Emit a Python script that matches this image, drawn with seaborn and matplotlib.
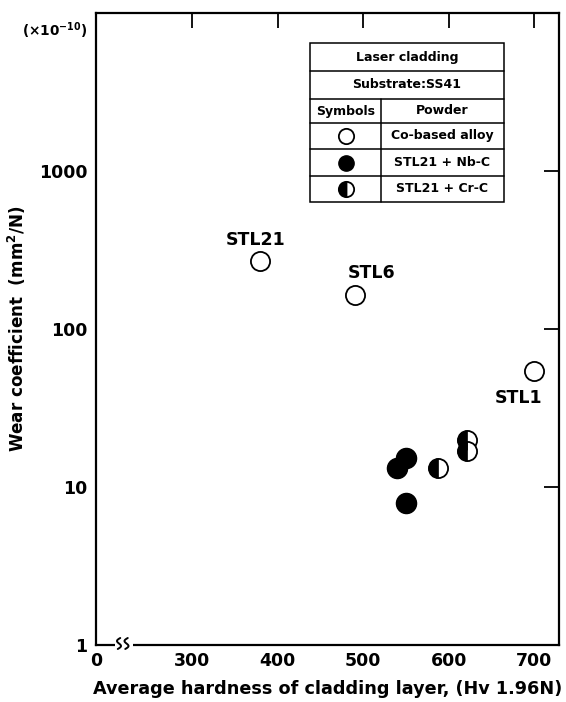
import numpy as np
import pandas as pd
import matplotlib
matplotlib.use("Agg")
import matplotlib.pyplot as plt
from matplotlib.lines import Line2D
from matplotlib.patches import Rectangle
from matplotlib.markers import MarkerStyle
import seaborn as sns

# ---------------- data ----------------
co_x = [380, 490, 700]
co_y = [268, 165, 54]
co_names = ["STL21", "STL6", "STL1"]

nb_x = [540, 550, 550]
nb_y = [13.2, 15.3, 7.9]

cr_x = [588, 622, 622]
cr_y = [13.1, 19.8, 16.8]

x_ticks = [300, 400, 500, 600, 700]
x_ticklabels = ["300", "400", "500", "600", "700"]
y_ticks = [1, 10, 100, 1000]
y_ticklabels = ["1", "10", "100", "1000"]

legend_rows = ["Co-based alloy", "STL21 + Nb-C", "STL21 + Cr-C"]

# ---------------- style ----------------
sns.set_theme(style="white")
plt.rcParams["font.family"] = ["DejaVu Sans"]
plt.rcParams["font.weight"] = "bold"
plt.rcParams["mathtext.default"] = "bf"
plt.rcParams["text.color"] = "black"
plt.rcParams["axes.labelcolor"] = "black"
plt.rcParams["xtick.color"] = "black"
plt.rcParams["ytick.color"] = "black"

W, H = 566, 702
fig = plt.figure(figsize=(W / 100, H / 100), dpi=100)
L, R, T, B = 96, 559, 13, 645
ax = fig.add_axes([L / W, 1 - B / H, (R - L) / W, (B - T) / H])

XMIN, XMAX = 187.7, 729.0
ax.set_xlim(XMIN, XMAX)
ax.set_yscale("log")
ax.set_ylim(1, 10000)

df_co = pd.DataFrame({"x": co_x, "y": co_y})
df_nb = pd.DataFrame({"x": nb_x, "y": nb_y})
df_cr = pd.DataFrame({"x": cr_x, "y": cr_y})

sz = 190
sns.scatterplot(data=df_co, x="x", y="y", ax=ax, s=sz, color="white",
                edgecolor="black", linewidth=1.3, zorder=5, clip_on=False)
sns.scatterplot(data=df_nb, x="x", y="y", ax=ax, s=sz + 20, color="black",
                edgecolor="black", linewidth=1.0, zorder=5)
sns.scatterplot(data=df_cr, x="x", y="y", ax=ax, s=sz, color="white",
                edgecolor="black", linewidth=1.3, zorder=5)
sns.scatterplot(data=df_cr, x="x", y="y", ax=ax, s=sz,
                marker=MarkerStyle("o", fillstyle="left"), color="black",
                edgecolor="black", linewidth=0.5, zorder=6)

# point labels
lab_off = {"STL21": (-5, 21), "STL6": (17, 22), "STL1": (-16, -27)}
for name, xv, yv in zip(co_names, co_x, co_y):
    dx, dy = lab_off[name]
    ax.annotate(name, (xv, yv), xytext=(dx * 0.72, dy * 0.72),
                textcoords="offset points", ha="center", va="center",
                fontsize=12.5, fontweight="bold", color="black")

# axes / ticks
for sp in ax.spines.values():
    sp.set_color("black")
    sp.set_linewidth(1.6)
ax.set_xticks([XMIN] + x_ticks)
ax.set_xticklabels(["0"] + x_ticklabels)
ax.set_yticks(y_ticks)
ax.set_yticklabels(y_ticklabels)
ax.minorticks_off()
ax.yaxis.set_minor_locator(matplotlib.ticker.NullLocator())
ax.tick_params(axis="both", which="major", direction="in", length=11,
               width=1.3, color="black", labelsize=12.5, top=True, right=True,
               labelcolor="black")
ax.tick_params(axis="x", pad=5)
ax.tick_params(axis="y", pad=6)
ax.xaxis.get_major_ticks()[0].tick1line.set_visible(False)
ax.xaxis.get_major_ticks()[0].tick2line.set_visible(False)
for lbl in ax.get_xticklabels() + ax.get_yticklabels():
    lbl.set_fontweight("bold")
ax.grid(False)

ax.set_xlabel("Average hardness of cladding layer, (Hv 1.96N)",
              fontsize=12.7, fontweight="bold", labelpad=7, color="black")
ax.set_ylabel("Wear coefficient  (mm$^2$/N)", fontsize=12.1,
              fontweight="bold", labelpad=8, color="black")

fig.text(22 / W, 1 - 31 / H, "(×10$^{-10}$)", fontsize=9.8,
         fontweight="bold", ha="left", va="center", color="black")

# axis break mark
def fx(px):
    return px / W

def fy(py):
    return 1 - py / H

fig.add_artist(Rectangle((fx(115), fy(648)), (133 - 115) / W, 6 / H,
                         transform=fig.transFigure, facecolor="white",
                         edgecolor="none", zorder=10))
t = np.linspace(0, 1, 50)
for x0 in (119.0, 126.5):
    xs = x0 + 2.6 * np.sin(2 * np.pi * t) + 2.5 * (t - 0.5)
    ys = 645 + 4 - 11 * t
    fig.add_artist(Line2D(fx(xs), fy(ys), transform=fig.transFigure,
                          color="black", lw=1.4, zorder=11))

# legend table
tl, tr, tm = 310, 504, 381
rows = [43, 71, 99, 123, 149, 176, 202]
lw = 1.1
fig.add_artist(Rectangle((fx(tl), fy(rows[-1])), (tr - tl) / W,
                         (rows[-1] - rows[0]) / H, transform=fig.transFigure,
                         facecolor="white", edgecolor="black", lw=lw, zorder=8))
for r in rows[1:-1]:
    fig.add_artist(Line2D([fx(tl), fx(tr)], [fy(r), fy(r)],
                          transform=fig.transFigure, color="black", lw=lw,
                          zorder=9))
fig.add_artist(Line2D([fx(tm), fx(tm)], [fy(rows[2]), fy(rows[-1])],
                      transform=fig.transFigure, color="black", lw=lw,
                      zorder=9))

fs_leg = 9
cx_all = (tl + tr) / 2
fig.text(fx(cx_all), fy((rows[0] + rows[1]) / 2), "Laser cladding",
         fontsize=fs_leg, fontweight="bold", ha="center", va="center", zorder=12)
fig.text(fx(cx_all), fy((rows[1] + rows[2]) / 2), "Substrate:SS41",
         fontsize=fs_leg, fontweight="bold", ha="center", va="center", zorder=12)
cs = (tl + tm) / 2
cp = (tm + tr) / 2
fig.text(fx(cs), fy((rows[2] + rows[3]) / 2), "Symbols", fontsize=fs_leg,
         fontweight="bold", ha="center", va="center", zorder=12)
fig.text(fx(cp), fy((rows[2] + rows[3]) / 2), "Powder", fontsize=fs_leg,
         fontweight="bold", ha="center", va="center", zorder=12)

marker_specs = [
    dict(marker="o", markerfacecolor="white", markeredgecolor="black",
         markeredgewidth=1.3),
    dict(marker="o", markerfacecolor="black", markeredgecolor="black",
         markeredgewidth=1.0),
    dict(marker="o", fillstyle="left", markerfacecolor="black",
         markerfacecoloralt="white", markeredgecolor="black",
         markeredgewidth=1.3),
]
for i, (txt, ms) in enumerate(zip(legend_rows, marker_specs)):
    yc = (rows[3 + i] + rows[4 + i]) / 2
    fig.add_artist(Line2D([fx(cs)], [fy(yc)], transform=fig.transFigure,
                          markersize=11, linestyle="none", zorder=12, **ms))
    fig.text(fx(cp), fy(yc), txt, fontsize=fs_leg, fontweight="bold",
             ha="center", va="center", zorder=12)

fig.savefig("out.png", dpi=100)
